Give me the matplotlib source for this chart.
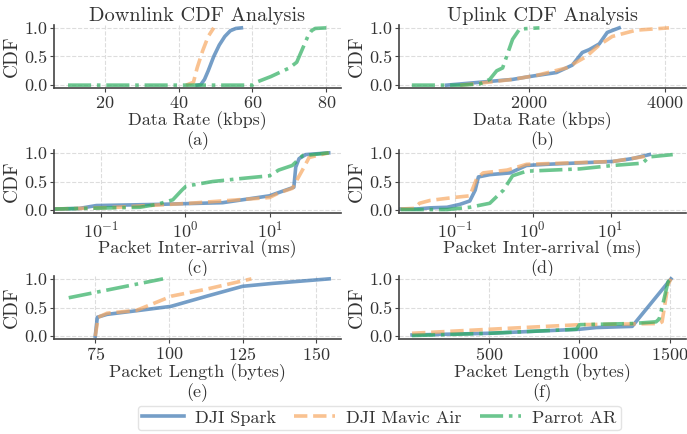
import matplotlib
matplotlib.use("Agg")
import matplotlib.pyplot as plt
import numpy as np

plt.rcParams['font.family'] = 'serif'
plt.rcParams['font.serif'] = ['cmr10']
plt.rcParams['mathtext.fontset'] = 'cm'
plt.rcParams['axes.formatter.use_mathtext'] = True

devices = ["DJI Spark", "DJI Mavic Air", "Parrot AR"]
colors  = ["#3a75b0", "#f7a862", "#2eae60"]
styles  = ["-", "--", "-."]

# (a) downlink data rate, kbps
dl_rate_x = [
	[45, 46, 47, 48, 49.5, 51, 52.5, 54, 55.5, 57],
	[42, 44, 45, 46.5, 48, 49.5],
	[10, 60, 61, 65, 70, 72, 74, 75, 76, 77, 80],
]
dl_rate_y = [
	[0.0, 0.01, 0.1, 0.25, 0.5, 0.7, 0.85, 0.95, 0.99, 1.0],
	[0.0, 0.05, 0.3, 0.6, 0.85, 1.0],
	[0.0, 0.0, 0.05, 0.15, 0.3, 0.4, 0.7, 0.85, 0.95, 0.99, 1.0],
]

# (b) uplink data rate, kbps
ul_rate_x = [
	[800, 1285, 1766, 2015, 2409, 2642, 2788, 2890, 3036, 3153, 3328],
	[1000, 1183, 1766, 2117, 2555, 2847, 3036, 3226, 3577, 4058],
	[290, 1000, 1285, 1431, 1533, 1620, 1693, 1766, 1869, 2160],
]
ul_rate_y = [
	[0.0, 0.05, 0.1, 0.15, 0.22, 0.35, 0.57, 0.62, 0.72, 0.92, 1.0],
	[0.0, 0.02, 0.1, 0.17, 0.3, 0.5, 0.7, 0.85, 0.96, 1.0],
	[0.0, 0.0, 0.02, 0.1, 0.25, 0.3, 0.55, 0.8, 0.98, 1.0],
]

# (c) downlink packet inter-arrival, ms
dl_iat_x = [
	[0.029, 0.056, 0.089, 0.46, 2.75, 9.8, 19.0, 20.0, 21.9, 26.3, 49.0],
	[0.029, 0.1, 0.155, 1.12, 9.8, 12.6, 18.2, 24.0, 28.8, 49.0],
	[0.029, 0.29, 0.46, 0.71, 0.91, 1.02, 2.1, 4.4, 9.8, 12.6, 18.2, 24.0, 49.0],
]
dl_iat_y = [
	[0.02, 0.03, 0.08, 0.1, 0.13, 0.25, 0.4, 0.75, 0.9, 0.97, 1.0],
	[0.02, 0.04, 0.05, 0.12, 0.22, 0.3, 0.38, 0.7, 0.92, 1.0],
	[0.02, 0.05, 0.1, 0.18, 0.35, 0.42, 0.5, 0.55, 0.6, 0.7, 0.78, 0.95, 1.0],
]

# (d) uplink packet inter-arrival, ms
ul_iat_x = [
	[0.02, 0.032, 0.048, 0.079, 0.115, 0.155, 0.182, 0.2, 0.28, 0.51, 0.83, 1.5, 10.7, 19.0, 31.6],
	[0.02, 0.03, 0.035, 0.048, 0.095, 0.155, 0.19, 0.23, 0.47, 0.83, 10.7, 31.6],
	[0.02, 0.079, 0.155, 0.28, 0.42, 0.55, 0.83, 4.0, 10.7, 25.7, 31.6, 63.0],
]
ul_iat_y = [
	[0.02, 0.02, 0.04, 0.05, 0.1, 0.16, 0.35, 0.58, 0.62, 0.65, 0.78, 0.8, 0.85, 0.9, 0.97],
	[0.02, 0.03, 0.12, 0.17, 0.22, 0.25, 0.55, 0.65, 0.7, 0.8, 0.85, 0.95],
	[0.01, 0.01, 0.05, 0.12, 0.35, 0.6, 0.68, 0.72, 0.78, 0.82, 0.93, 0.97],
]

# (e) downlink packet length, bytes
dl_len_x = [
	[75, 75.7, 79, 90, 100.7, 113, 125, 135, 154.4],
	[75, 76, 79, 89, 101, 112.7, 128],
	[66, 98],
]
dl_len_y = [
	[0.0, 0.33, 0.38, 0.45, 0.52, 0.7, 0.87, 0.92, 1.0],
	[0.0, 0.33, 0.4, 0.45, 0.7, 0.82, 1.0],
	[0.67, 1.0],
]

# (f) uplink packet length, bytes
ul_len_x = [
	[77, 505, 1000, 1093, 1291, 1505],
	[77, 505, 1000, 1440, 1456, 1489, 1505],
	[77, 505, 984, 1000, 1291, 1423, 1440, 1456, 1489, 1505],
]
ul_len_y = [
	[0.02, 0.05, 0.12, 0.15, 0.17, 1.0],
	[0.05, 0.12, 0.2, 0.22, 0.25, 0.9, 1.0],
	[0.01, 0.05, 0.12, 0.2, 0.22, 0.25, 0.3, 0.5, 0.95, 1.0],
]

panels = [
	(dl_rate_x, dl_rate_y, "Data Rate (kbps)", "(a)", False, (6.2, 84), [20, 40, 60, 80]),
	(ul_rate_x, ul_rate_y, "Data Rate (kbps)", "(b)", False, (102, 4307), [2000, 4000]),
	(dl_iat_x, dl_iat_y, "Packet Inter-arrival (ms)", "(c)", True, (10**-1.55, 10**1.835), [0.1, 1, 10]),
	(ul_iat_x, ul_iat_y, "Packet Inter-arrival (ms)", "(d)", True, (10**-1.72, 10**1.97), [0.1, 1, 10]),
	(dl_len_x, dl_len_y, "Packet Length (bytes)", "(e)", False, (61, 158.4), [75, 100, 125, 150]),
	(ul_len_x, ul_len_y, "Packet Length (bytes)", "(f)", False, (5, 1588), [500, 1000, 1500]),
]

W, H = 687, 434
fig = plt.figure(figsize=(W / 100, H / 100), dpi=100)

lefts = [54, 399]
tops  = [25, 150, 276]
aw, ah = 287, 63

axes = []
for i, (xs, ys, xlabel, tag, logx, xlim, ticks) in enumerate(panels):
	r, c = divmod(i, 2)
	ax = fig.add_axes([lefts[c] / W, 1 - (tops[r] + ah) / H, aw / W, ah / H])
	for k in range(3):
		ax.plot(xs[k], ys[k], color=colors[k], ls=styles[k], lw=2.6, alpha=0.7,
			label=devices[k])
	if logx:
		ax.set_xscale("log")
		ax.minorticks_off()
	ax.set_xlim(*xlim)
	ax.set_xticks(ticks)
	ax.set_ylim(-0.05, 1.05)
	ax.set_yticks([0.0, 0.5, 1.0])
	ax.set_yticklabels(["0.0", "0.5", "1.0"])
	ax.grid(True, ls="--", color="#dddddd", lw=0.8)
	ax.set_axisbelow(True)
	for s in ["top", "right"]:
		ax.spines[s].set_visible(False)
	for s in ["left", "bottom"]:
		ax.spines[s].set_color("#444444")
		ax.spines[s].set_linewidth(1.2)
	ax.tick_params(labelsize=13, length=3, width=0.8, color="#444444",
		labelcolor="#333333", pad=2)
	ax.set_xlabel(xlabel + "\n" + tag, fontsize=13, color="#333333",
		labelpad=-1 if logx else 0, linespacing=1.1)
	ax.set_ylabel("CDF", fontsize=14, color="#333333", labelpad=2)
	axes.append(ax)

axes[0].set_title("Downlink CDF Analysis", fontsize=14.6, color="#333333", pad=3)
axes[1].set_title("Uplink CDF Analysis", fontsize=14.6, color="#333333", pad=3)

handles, labels = axes[0].get_legend_handles_labels()
fig.legend(handles, labels, loc="lower center", bbox_to_anchor=(0.552, -0.012),
	ncol=3, fontsize=13, frameon=True, edgecolor="#dddddd", handlelength=2.3,
	handletextpad=0.6, columnspacing=1.0, borderpad=0.25, labelcolor="#333333")

fig.savefig("out.png", dpi=100)
